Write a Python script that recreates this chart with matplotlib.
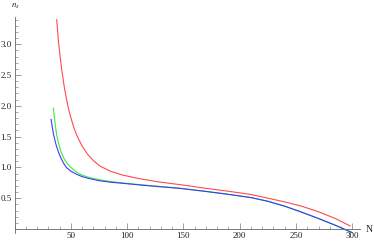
import matplotlib
matplotlib.use("Agg")
import matplotlib.pyplot as plt
from matplotlib.ticker import MultipleLocator, FixedLocator

# Data
red_N = [37.5, 39, 40.5, 42, 44, 46, 48, 50, 53, 56, 60, 65, 70, 76, 85, 95, 110, 126, 147, 170, 191, 210, 225, 240, 255, 270, 285, 298]
red_n = [3.40, 3.05, 2.80, 2.58, 2.33, 2.12, 1.95, 1.81, 1.63, 1.49, 1.35, 1.21, 1.11, 1.02, 0.94, 0.88, 0.82, 0.77, 0.72, 0.66, 0.61, 0.56, 0.50, 0.44, 0.37, 0.28, 0.17, 0.05]

green_N = [34.5, 35.5, 36.5, 37.5, 39, 41, 43, 45, 47.5, 50, 54, 58, 64, 70, 80, 90, 100, 120, 147, 170, 191, 210, 225, 240, 254, 270, 285, 299]
green_n = [1.96, 1.80, 1.65, 1.52, 1.40, 1.27, 1.18, 1.11, 1.05, 1.00, 0.94, 0.89, 0.85, 0.82, 0.785, 0.76, 0.74, 0.705, 0.66, 0.61, 0.56, 0.51, 0.45, 0.37, 0.28, 0.17, 0.06, -0.05]

blue_N = [32.5, 33.5, 34.5, 35.5, 37, 39, 41, 43.5, 46, 50, 55, 60, 66, 75, 85, 100, 120, 147, 170, 191, 210, 225, 240, 254, 270, 285, 300]
blue_n = [1.78, 1.66, 1.55, 1.47, 1.36, 1.25, 1.16, 1.07, 1.00, 0.94, 0.89, 0.85, 0.82, 0.785, 0.76, 0.735, 0.70, 0.66, 0.61, 0.56, 0.51, 0.45, 0.37, 0.28, 0.17, 0.06, -0.06]

x_major = [50, 100, 150, 200, 250, 300]
y_major = [0.5, 1.0, 1.5, 2.0, 2.5, 3.0]

fig = plt.figure(figsize=(3.74, 2.43), dpi=100)
ax = fig.add_axes([0.0388, 0.0399, 0.9243, 0.8897])
ax.set_xlim(0, 307)
ax.set_ylim(-0.07, 3.44)

ax.plot(red_N, red_n, color='#ff4a4a', lw=0.8, clip_on=False)
ax.plot(green_N, green_n, color='#3ee83e', lw=0.8, clip_on=False)
ax.plot(blue_N, blue_n, color='#3a3aff', lw=0.8, clip_on=False)

for s in ['top', 'right']:
    ax.spines[s].set_visible(False)
ax.spines['left'].set_position(('data', 0))
ax.spines['bottom'].set_position(('data', 0))
for s in ['left', 'bottom']:
    ax.spines[s].set_color('#666666')
    ax.spines[s].set_linewidth(0.6)

ax.xaxis.set_major_locator(FixedLocator(x_major))
ax.yaxis.set_major_locator(FixedLocator(y_major))
ax.xaxis.set_minor_locator(MultipleLocator(10))
ax.yaxis.set_minor_locator(MultipleLocator(0.1))
ax.set_xticklabels([str(v) for v in x_major])
ax.set_yticklabels([f"{v:.1f}" for v in y_major])
ax.tick_params(which='major', direction='in', length=4, width=0.5, color='#777777',
               labelsize=6.5, pad=2, labelfontfamily='Liberation Serif', labelcolor='#222222')
ax.tick_params(which='minor', direction='in', length=2, width=0.5, color='#888888')
ax.tick_params(axis='y', which='both', left=True, right=False)
ax.tick_params(axis='x', which='both', bottom=True, top=False)

fig.text(369/374, 1 - 229/243, 'N', ha='center', va='center', fontsize=7,
         family='Liberation Serif', color='#222222')
fig.text(15/374, 1 - 6/243, r'$n_s$', ha='center', va='center', fontsize=6.5,
         color='#222222', math_fontfamily='stix')

fig.savefig('out.png', dpi=100)
